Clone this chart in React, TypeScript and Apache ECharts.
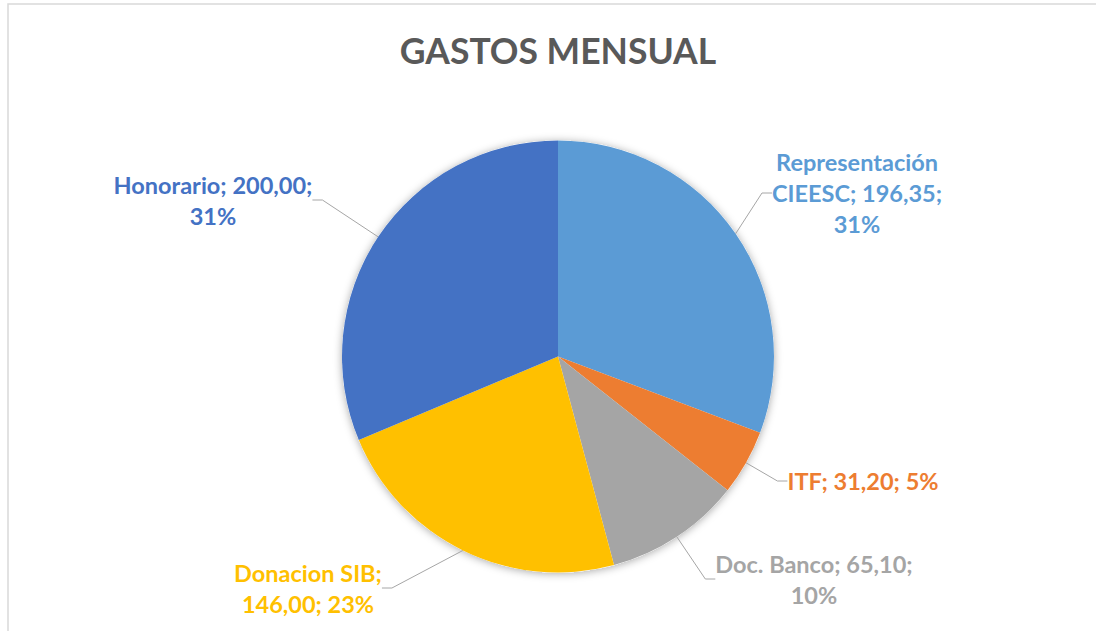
import React, { useEffect, useRef } from "react";
import * as echarts from "echarts";

const TITLE = "GASTOS MENSUAL";
const categories = ["Representación CIEESC", "ITF", "Doc. Banco", "Donacion SIB", "Honorario"];
const values = [196.35, 31.2, 65.1, 146.0, 200.0];
const colors = ["#5B9BD5", "#ED7D31", "#A5A5A5", "#FFC000", "#4472C4"];
// label text line-break layouts (text only)
const labelLines = [
  (n: string, v: string, p: string) => `Representación\nCIEESC; ${v};\n${p}`,
  (n: string, v: string, p: string) => `${n}; ${v}; ${p}`,
  (n: string, v: string, p: string) => `${n}; ${v};\n${p}`,
  (n: string, v: string, p: string) => `${n};\n${v}; ${p}`,
  (n: string, v: string, p: string) => `${n}; ${v};\n${p}`,
];
const labelPos: [number, number][] = [
  [857, 193],
  [863, 481],
  [814, 579],
  [308, 588],
  [213, 200],
];

export default function App() {
  const ref = useRef<HTMLDivElement>(null);
  useEffect(() => {
    if (!ref.current) return;
    const chart = echarts.init(ref.current, null, { renderer: "svg" });
    const total = values.reduce((a, b) => a + b, 0);
    chart.setOption({
      animation: false,
      backgroundColor: "#ffffff",
      title: {
        text: TITLE,
        left: 553,
        top: 27,
        textAlign: "center",
        textStyle: { fontFamily: "Lato", fontWeight: "bold", fontSize: 35.5, color: "#595959" },
      },
      graphic: [
        {
          type: "rect",
          shape: { x: 8, y: 4, width: 1200, height: 800 },
          style: { fill: "none", stroke: "#D9D9D9", lineWidth: 1.5 },
          silent: true,
        },
      ],
      series: [
        {
          type: "pie",
          silent: true,
          center: [558, 356.5],
          radius: 216,
          z: 1,
          label: { show: false },
          labelLine: { show: false },
          itemStyle: { color: "#ffffff", shadowBlur: 8, shadowColor: "rgba(0,0,0,0.35)", shadowOffsetX: 0, shadowOffsetY: 1 },
          data: [{ value: total, name: "" }],
        },
        {
          type: "pie",
          center: [558, 356.5],
          radius: 216,
          startAngle: 90,
          clockwise: true,
          z: 2,
          data: categories.map((c, i) => ({
            name: c,
            value: values[i],
            itemStyle: { color: colors[i] },
            label: { color: colors[i] },
          })),
          label: {
            show: true,
            position: "outside",
            fontFamily: "Lato",
            fontWeight: "bold",
            fontSize: 23.5,
            lineHeight: 31,
            align: "center",
            formatter: (p: any) => {
              const v = values[p.dataIndex].toFixed(2).replace(".", ",");
              const pc = Math.round((values[p.dataIndex] / total) * 100) + "%";
              return labelLines[p.dataIndex](p.name, v, pc);
            },
          },
          labelLine: { show: true, length: 20, length2: 10, lineStyle: { color: "#A6A6A6", width: 1 } },
          labelLayout: (params: any) => {
            const pos = labelPos[params.dataIndex];
            return { x: pos[0], y: pos[1], align: "center", verticalAlign: "middle" };
          },
        },
      ],
    });
    return () => chart.dispose();
  }, []);
  return <div ref={ref} style={{ position: "fixed", left: 0, top: 0, width: 1096, height: 631 }} />;
}
